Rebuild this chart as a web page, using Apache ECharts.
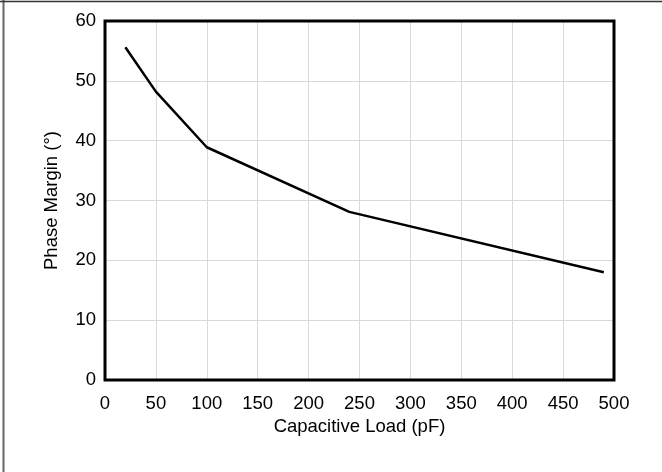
<!DOCTYPE html>
<html><head><meta charset="utf-8">
<script src="https://cdn.jsdelivr.net/npm/echarts@6/dist/echarts.min.js"></script>
<style>html,body{margin:0;padding:0;background:#fff}#c{width:662px;height:472px}</style>
</head><body><div id="c"></div>
<script>
const capLoad = [20, 50, 100, 240, 490];
const phaseMargin = [55.6, 48.2, 38.9, 28.1, 18.0];
const xTicks = [0, 50, 100, 150, 200, 250, 300, 350, 400, 450, 500];
const yTicks = [0, 10, 20, 30, 40, 50, 60];

const chart = echarts.init(document.getElementById('c'), null, {renderer: 'canvas'});
const font = '"Liberation Sans", Arial, sans-serif';
chart.setOption({
  animation: false,
  backgroundColor: '#fff',
  graphic: [
    {type: 'line', shape: {x1: 3.5, y1: 0, x2: 3.5, y2: 472}, style: {stroke: '#666', lineWidth: 2}},
    {type: 'line', shape: {x1: 0, y1: 1.5, x2: 662, y2: 1.5}, style: {stroke: '#333', lineWidth: 1.5}}
  ],
  grid: {left: 105, right: 48, top: 21, bottom: 92, show: true, borderColor: '#000', borderWidth: 3, backgroundColor: 'transparent', z: 5},
  xAxis: {
    type: 'value', min: 0, max: 500, interval: 50,
    name: 'Capacitive Load (pF)', nameLocation: 'middle', nameGap: 32,
    nameTextStyle: {fontFamily: font, fontSize: 18.5, color: '#000'},
    axisLine: {show: false}, axisTick: {show: false},
    axisLabel: {fontFamily: font, fontSize: 18.5, color: '#000', margin: 14},
    splitLine: {show: true, lineStyle: {color: '#d9d9d9', width: 1}}
  },
  yAxis: {
    type: 'value', min: 0, max: 60, interval: 10,
    name: 'Phase Margin (°)', nameLocation: 'middle', nameGap: 44,
    nameTextStyle: {fontFamily: font, fontSize: 18.5, color: '#000'},
    axisLine: {show: false}, axisTick: {show: false},
    axisLabel: {fontFamily: font, fontSize: 18.5, color: '#000', margin: 9},
    splitLine: {show: true, lineStyle: {color: '#d9d9d9', width: 1}}
  },
  series: [{
    type: 'line', data: capLoad.map((x, i) => [x, phaseMargin[i]]),
    showSymbol: false, lineStyle: {color: '#000', width: 2.5}, z: 3
  }]
});
</script></body></html>
